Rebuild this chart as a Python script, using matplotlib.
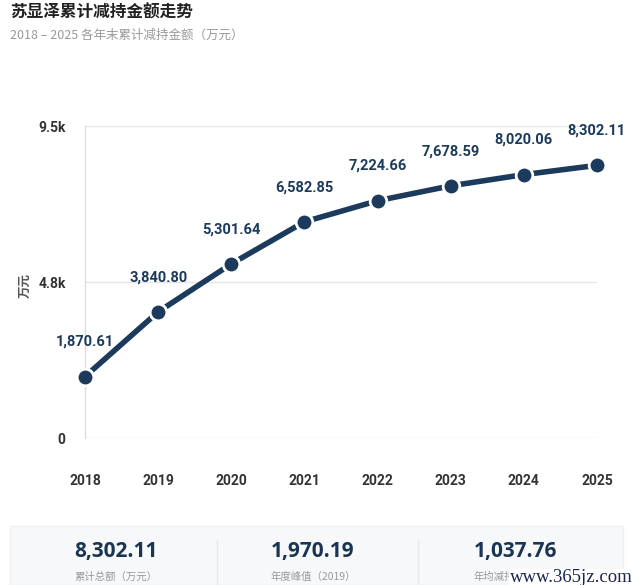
import matplotlib
matplotlib.use("Agg")
import matplotlib.pyplot as plt
from matplotlib.patches import Rectangle
from matplotlib.lines import Line2D

plt.rcParams['font.family'] = ['Noto Sans CJK SC', 'DejaVu Sans']

years = [2018, 2019, 2020, 2021, 2022, 2023, 2024, 2025]
values = [1870.61, 3840.80, 5301.64, 6582.85, 7224.66, 7678.59, 8020.06, 8302.11]
ytick_vals = [0, 4750, 9500]
ytick_labels = ["0", "4.8k", "9.5k"]
title = "苏显泽累计减持金额走势"
subtitle = "2018 – 2025 各年末累计减持金额（万元）"
ylabel = "万元"
stat_values = ["8,302.11", "1,970.19", "1,037.76"]
stat_labels = ["累计总额（万元）", "年度峰值（2019）", "年均减持（万元）"]

W, H = 640, 585
fig = plt.figure(figsize=(W / 100, H / 100), dpi=100)
fig.patch.set_facecolor("white")

NAVY = "#1b3a5c"
num_font = ['DejaVu Sans Condensed', 'Roboto', 'DejaVu Sans']

ax = fig.add_axes([85 / W, (H - 438) / H, (597 - 85) / W, (438 - 126) / H])
ax.set_xlim(2018, 2025)
ax.set_ylim(0, 9500)
ax.set_facecolor("white")
for s in ["top", "right", "bottom"]:
    ax.spines[s].set_visible(False)
ax.spines["left"].set_color("#dddddd")
ax.spines["left"].set_linewidth(1)
ax.set_yticks(ytick_vals)
ax.set_yticklabels(ytick_labels)
ax.set_xticks(years)
ax.set_xticklabels([str(y) for y in years])
ax.tick_params(length=0)
ax.tick_params(axis='y', pad=14)
ax.tick_params(axis='x', pad=26)
for lab in ax.get_yticklabels() + ax.get_xticklabels():
    lab.set_fontfamily(['Roboto', 'DejaVu Sans'])
    lab.set_fontweight("bold")
    lab.set_fontsize(10)
    lab.set_color("#333333")
ax.yaxis.grid(True, color="#e6e6e6", linewidth=1)
ax.set_axisbelow(True)

ax.plot(years, values, color=NAVY, linewidth=4, solid_capstyle="round",
        marker="o", markersize=12, markerfacecolor=NAVY,
        markeredgecolor="white", markeredgewidth=2, clip_on=False, zorder=3)

for x, v in zip(years, values):
    ax.annotate(f"{v:,.2f}", (x, v), xytext=(0, 25), textcoords="offset points",
                ha="center", va="center", fontsize=10.5, fontweight="bold",
                color=NAVY, family=['Roboto', 'DejaVu Sans'])

fig.text(25 / W, 1 - 285 / H, ylabel, rotation=90, ha="center", va="center",
         fontsize=9, fontweight="bold", color="#555555")

fig.text(10 / W, 1 - 13 / H, title, ha="left", va="center",
         fontsize=12, fontweight="bold", color="#222222")
fig.text(10 / W, 1 - 35 / H, subtitle, ha="left", va="center",
         fontsize=9, color="#999999")

# bottom stats panel
panel = Rectangle((10 / W, 0), (623 - 10) / W, (H - 526) / H, transform=fig.transFigure,
                  facecolor="#f6f8fa", edgecolor="#eef0f3", linewidth=1, zorder=0)
fig.patches.append(panel)
for dx in [217, 418]:
    fig.lines.append(Line2D([dx / W, dx / W], [1 - 540 / H, 1 - 585 / H],
                            transform=fig.transFigure, color="#e6e8eb", linewidth=1))
centers = [116, 313, 515]
for cx, sv, sl in zip(centers, stat_values, stat_labels):
    fig.text(cx / W, 1 - 552 / H, sv, ha="center", va="center", fontsize=15,
             fontweight="bold", color="#1a3553", family=['Open Sans', 'DejaVu Sans'])
    fig.text(cx / W, 1 - 577 / H, sl, ha="center", va="center", fontsize=7.5,
             color="#999999")

fig.text(571 / W, 1 - 578 / H, "www.365jz.com", ha="center", va="center",
         fontsize=13.5, color="#1a2550", family=['Liberation Serif', 'DejaVu Serif'],
         bbox=dict(facecolor="white", edgecolor="none", pad=0.5))

fig.savefig("out.png", dpi=100, facecolor="white")
